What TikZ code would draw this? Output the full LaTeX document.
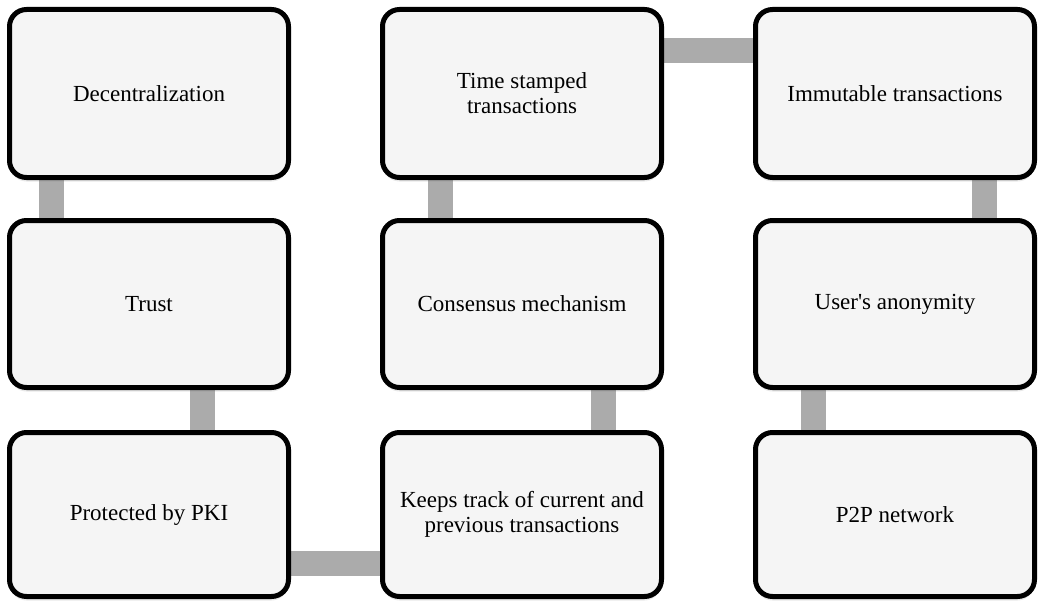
\documentclass[tikz,border=0pt]{standalone}
\usepackage{fontspec}
\setmainfont{Liberation Serif}
\usetikzlibrary{backgrounds,shadows}
\definecolor{boxfill}{RGB}{245,245,245}
\definecolor{linkgray}{RGB}{171,171,171}
\begin{document}
\begin{tikzpicture}[x=1pt,y=-1pt,
  card/.style={draw=black, line width=5pt, fill=boxfill, rounded corners=17pt,
    minimum width=279pt, align=center, inner sep=0pt,
    font=\fontsize{23}{25}\selectfont,
    drop shadow={opacity=0.18, shadow xshift=0pt, shadow yshift=-4pt}},
  link/.style={draw=linkgray, line width=25pt}]
\useasboundingbox (0,0) rectangle (1039,602);
% row 1
\node[card, minimum height=168pt] (dec)  at (149,93.5) {Decentralization};
\node[card, minimum height=168pt] (time) at (522,93.5) {Time stamped\\transactions};
\node[card, minimum height=168pt] (imm)  at (895,93.5) {Immutable transactions};
% row 2
\node[card, minimum height=167pt] (trust) at (149,304) {Trust};
\node[card, minimum height=167pt] (cons)  at (522,304) {Consensus mechanism};
\node[card, minimum height=167pt] (user)  at (895,304) {User\textquotesingle s anonymity};
% row 3
\node[card, minimum height=164pt] (pki)   at (149,514.5) {Protected by PKI};
\node[card, minimum height=164pt] (keeps) at (522,514.5) {Keeps track of current and\\previous transactions};
\node[card, minimum height=164pt] (p2p)   at (895,514.5) {P2P network};
% grey links between consecutive cards
\begin{scope}[on background layer]
  \draw[link] ([xshift=44pt]dec.south west) -- ([xshift=44pt]trust.north west);
  \draw[link] ([xshift=195pt]trust.south west) -- ([xshift=195pt]pki.north west);
  \draw[link] ([yshift=36pt]pki.south east) -- ([yshift=36pt]keeps.south west);
  \draw[link] ([xshift=223pt]keeps.north west) -- ([xshift=223pt]cons.south west);
  \draw[link] ([xshift=60pt]cons.north west) -- ([xshift=60pt]time.south west);
  \draw[link] ([yshift=-44pt]time.north east) -- ([yshift=-44pt]imm.north west);
  \draw[link] ([xshift=231pt]imm.south west) -- ([xshift=231pt]user.north west);
  \draw[link] ([xshift=60pt]user.south west) -- ([xshift=60pt]p2p.north west);
\end{scope}
\end{tikzpicture}
\end{document}
